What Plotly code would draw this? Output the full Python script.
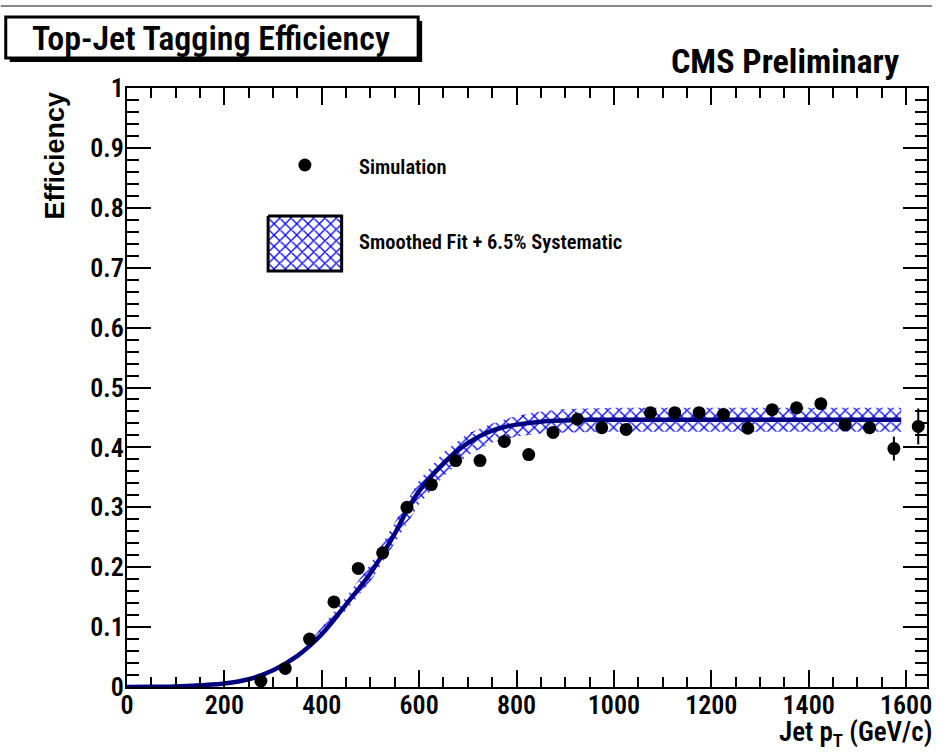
import plotly.graph_objects as go

# ---------------- data ----------------
sim_x = [275, 325, 375, 425, 475, 525, 575, 625, 675, 725, 775, 825, 875, 925,
         975, 1025, 1075, 1125, 1175, 1225, 1275, 1325, 1375, 1425, 1475, 1525, 1575, 1625]
sim_y = [0.010, 0.031, 0.080, 0.142, 0.198, 0.224, 0.300, 0.338, 0.378, 0.378, 0.410, 0.388,
         0.425, 0.447, 0.433, 0.430, 0.458, 0.458, 0.458, 0.455, 0.432, 0.463, 0.466, 0.473,
         0.438, 0.433, 0.398, 0.435]
sim_err = [0.003, 0.004, 0.005, 0.005, 0.005, 0.005, 0.005, 0.005, 0.005, 0.005, 0.006, 0.006,
           0.006, 0.006, 0.006, 0.006, 0.006, 0.007, 0.007, 0.007, 0.007, 0.008, 0.008, 0.009,
           0.009, 0.010, 0.020, 0.030]

fit_x = [0, 50, 100, 150, 200, 250, 300, 350, 400, 450, 500, 550, 575, 600, 625, 650, 675,
         700, 725, 750, 775, 800, 850, 900, 950, 1000, 1200, 1400, 1590]
fit_y = [0.000, 0.0005, 0.001, 0.003, 0.006, 0.013, 0.028, 0.052, 0.088, 0.138, 0.190, 0.256,
         0.295, 0.327, 0.352, 0.373, 0.392, 0.407, 0.419, 0.428, 0.434, 0.438, 0.443, 0.445,
         0.446, 0.446, 0.446, 0.446, 0.446]

band_x = [380, 450, 500, 550, 600, 650, 700, 750, 800, 850, 900, 1000, 1200, 1400, 1590]
band_lo = [0.070, 0.128, 0.176, 0.240, 0.305, 0.352, 0.387, 0.408, 0.418, 0.423, 0.425,
           0.426, 0.426, 0.426, 0.426]
band_hi = [0.080, 0.150, 0.205, 0.275, 0.345, 0.392, 0.423, 0.440, 0.453, 0.460, 0.464,
           0.466, 0.466, 0.466, 0.466]

x_ticks = [0, 200, 400, 600, 800, 1000, 1200, 1400, 1600]
y_ticks = [0, 0.1, 0.2, 0.3, 0.4, 0.5, 0.6, 0.7, 0.8, 0.9, 1]

# ---------------- style ----------------
NARROW = "Roboto Condensed, Roboto, Liberation Sans"
W, H = 937, 754
ML, MR, MT, MB = 127, 5, 88, 67
PW, PH = W - ML - MR, H - MT - MB


def px(xp):
    return (xp - ML) / PW


def py(yp):
    return (H - MB - yp) / PH


HATCH = dict(shape="x", fgcolor="#0000ff", fgopacity=1, size=8, solidity=0.3)

fig = go.Figure()

# systematic band (hatched)
fig.add_trace(go.Scatter(x=band_x, y=band_lo, mode="lines", line=dict(width=0),
                         showlegend=False, hoverinfo="skip"))
fig.add_trace(go.Scatter(x=band_x, y=band_hi, mode="lines", line=dict(width=0),
                         fill="tonexty", fillcolor="rgba(0,0,0,0)",
                         fillpattern=dict(HATCH, bgcolor="rgba(0,0,0,0)"),
                         showlegend=False, hoverinfo="skip"))
# smoothed fit
fig.add_trace(go.Scatter(x=fit_x, y=fit_y, mode="lines",
                         line=dict(color="#000080", width=4.5, shape="spline"),
                         showlegend=False))
# simulation points
fig.add_trace(go.Scatter(x=sim_x, y=sim_y, mode="markers",
                         marker=dict(color="black", size=13),
                         error_y=dict(type="data", array=sim_err, color="black", thickness=2, width=0),
                         showlegend=False))

# ---- legend drawn on an overlay axis measured in pixels ----
leg_box_x = [142, 216, 216, 142, 142]
leg_box_y = [128, 128, 183, 183, 128]
fig.add_trace(go.Scatter(x=leg_box_x, y=leg_box_y, xaxis="x2", yaxis="y2", mode="lines",
                         line=dict(color="black", width=3), fill="toself", fillcolor="white",
                         fillpattern=dict(HATCH, bgcolor="white"),
                         showlegend=False, hoverinfo="skip"))
fig.add_trace(go.Scatter(x=[179], y=[77], xaxis="x2", yaxis="y2", mode="markers",
                         marker=dict(color="black", size=13), showlegend=False, hoverinfo="skip"))

fig.update_layout(
    width=W, height=H,
    margin=dict(l=ML, r=MR, t=MT, b=MB),
    paper_bgcolor="white", plot_bgcolor="white",
    font=dict(family=NARROW, color="black"),
    xaxis=dict(range=[0, 1643], tickvals=x_ticks, ticks="inside", ticklen=17, tickwidth=2,
               tickcolor="black", showline=True, linecolor="black", linewidth=2,
               mirror="allticks", showgrid=False, zeroline=False, ticklabelstandoff=-6,
               tickfont=dict(family=NARROW, size=26, weight=600),
               minor=dict(dtick=50, ticks="inside", ticklen=10, tickwidth=2, tickcolor="black",
                          showgrid=False)),
    yaxis=dict(range=[0, 1], tickvals=y_ticks, ticks="inside", ticklen=24, tickwidth=2,
               tickcolor="black", showline=True, linecolor="black", linewidth=2,
               mirror="allticks", showgrid=False, zeroline=False, ticklabelstandoff=-4,
               tickfont=dict(family=NARROW, size=26, weight=600),
               minor=dict(dtick=0.02, ticks="inside", ticklen=12, tickwidth=2, tickcolor="black",
                          showgrid=False)),
    xaxis2=dict(domain=[0, 1], range=[0, PW], visible=False, anchor="y2", overlaying="x"),
    yaxis2=dict(domain=[0, 1], range=[PH, 0], visible=False, anchor="x2", overlaying="y"),
    showlegend=False,
)

shapes = [
    # top grey rule
    dict(type="line", xref="paper", yref="paper", x0=px(0), x1=px(W), y0=py(6), y1=py(6),
         line=dict(color="#888888", width=2)),
    # title box shadow
    dict(type="rect", xref="paper", yref="paper", x0=px(9), x1=px(424), y0=py(62), y1=py(21),
         fillcolor="black", line=dict(width=0)),
    # title box
    dict(type="rect", xref="paper", yref="paper", x0=px(5), x1=px(420), y0=py(58), y1=py(17),
         fillcolor="white", line=dict(color="black", width=3)),
]
fig.update_layout(shapes=shapes)

annotations = [
    dict(text="Top-Jet Tagging Efficiency", xref="paper", yref="paper", x=px(212), y=py(38),
         xanchor="center", yanchor="middle", showarrow=False,
         font=dict(family=NARROW, size=34, color="black", weight=600)),
    dict(text="CMS Preliminary", xref="paper", yref="paper", x=px(906), y=py(61),
         xanchor="right", yanchor="middle", showarrow=False,
         font=dict(family=NARROW, size=34, color="black", weight="bold")),
    dict(text="Efficiency", xref="paper", yref="paper", x=px(55), y=py(155),
         xanchor="center", yanchor="middle", textangle=-90, showarrow=False,
         font=dict(family="Liberation Sans, Arial", size=27, color="black", weight="bold")),
    dict(text="Jet p<sub>T</sub> (GeV/c)", xref="paper", yref="paper", x=px(939), y=py(734),
         xanchor="right", yanchor="middle", showarrow=False,
         font=dict(family=NARROW, size=27, color="black", weight=600)),
    dict(text="Simulation", xref="x2", yref="y2", x=231, y=79, xanchor="left", yanchor="middle",
         showarrow=False, font=dict(family=NARROW, size=20.5, color="black", weight=600)),
    dict(text="Smoothed Fit + 6.5% Systematic", xref="x2", yref="y2", x=231, y=154,
         xanchor="left", yanchor="middle", showarrow=False,
         font=dict(family=NARROW, size=20.5, color="black", weight=600)),
]
fig.update_layout(annotations=annotations)

fig.write_html("out.html")
